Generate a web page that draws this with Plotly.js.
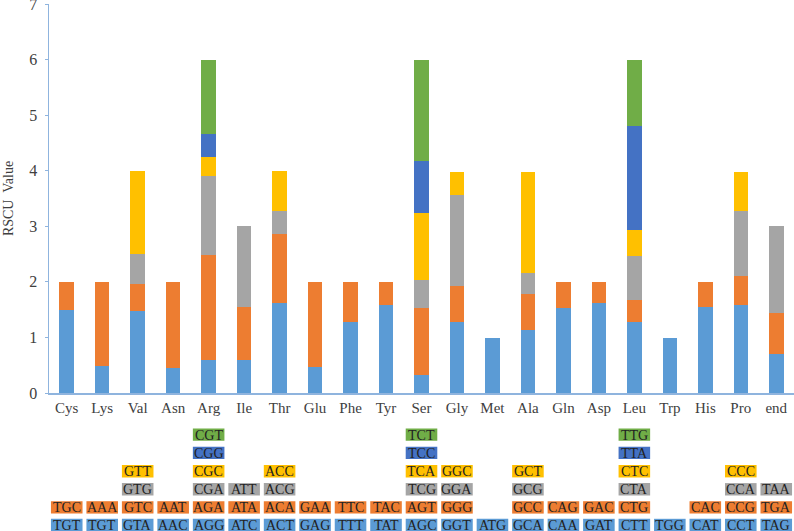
<!DOCTYPE html>
<html>
<head>
<meta charset="utf-8">
<script src="https://cdn.plot.ly/plotly-3.0.1.min.js"></script>
<style>html,body{margin:0;padding:0;background:#fff;}#chart{width:794px;height:531px;}</style>
</head>
<body>
<div id="chart"></div>
<script>
// Amino acids (categories)
var aminoAcids = ["Cys","Lys","Val","Asn","Arg","Ile","Thr","Glu","Phe","Tyr","Ser","Gly","Met","Ala","Gln","Asp","Leu","Trp","His","Pro","end"];

// RSCU values per stack level (bottom -> top)
var rscu1 = [1.50,0.49,1.48,0.45,0.59,0.59,1.62,0.47,1.27,1.59,0.33,1.27,0.99,1.13,1.53,1.62,1.27,0.99,1.55,1.59,0.71];
var rscu2 = [0.50,1.51,0.49,1.55,1.90,0.96,1.24,1.53,0.73,0.41,1.20,0.65,null,0.66,0.47,0.38,0.40,null,0.45,0.51,0.73];
var rscu3 = [null,null,0.54,null,1.42,1.45,0.42,null,null,null,0.51,1.64,null,0.37,null,null,0.79,null,null,1.18,1.56];
var rscu4 = [null,null,1.49,null,0.33,null,0.72,null,null,null,1.20,0.42,null,1.82,null,null,0.47,null,null,0.70,null];
var rscu5 = [null,null,null,null,0.42,null,null,null,null,null,0.93,null,null,null,null,null,1.87,null,null,null,null];
var rscu6 = [null,null,null,null,1.34,null,null,null,null,null,1.83,null,null,null,null,null,1.20,null,null,null,null];

// Codon labels per level (bottom -> top)
var codon1 = ["TGT","TGT","GTA","AAC","AGG","ATC","ACT","GAG","TTT","TAT","AGC","GGT","ATG","GCA","CAA","GAT","CTT","TGG","CAT","CCT","TAG"];
var codon2 = ["TGC","AAA","GTC","AAT","AGA","ATA","ACA","GAA","TTC","TAC","AGT","GGG",null,"GCC","CAG","GAC","CTG",null,"CAC","CCG","TGA"];
var codon3 = [null,null,"GTG",null,"CGA","ATT","ACG",null,null,null,"TCG","GGA",null,"GCG",null,null,"CTA",null,null,"CCA","TAA"];
var codon4 = [null,null,"GTT",null,"CGC",null,"ACC",null,null,null,"TCA","GGC",null,"GCT",null,null,"CTC",null,null,"CCC",null];
var codon5 = [null,null,null,null,"CGG",null,null,null,null,null,"TCC",null,null,null,null,null,"TTA",null,null,null,null];
var codon6 = [null,null,null,null,"CGT",null,null,null,null,null,"TCT",null,null,null,null,null,"TTG",null,null,null,null];

var colors = ["#5B9BD5","#ED7D31","#A5A5A5","#FFC000","#4472C4","#70AD47"];
var levels = [rscu1,rscu2,rscu3,rscu4,rscu5,rscu6];
var codons = [codon1,codon2,codon3,codon4,codon5,codon6];

var FONT = "Liberation Serif, Times New Roman, serif";

var traces = levels.map(function(vals, k){
  return {
    type: "bar",
    x: aminoAcids,
    y: vals,
    marker: {color: colors[k]},
    hoverinfo: "x+y",
    showlegend: false
  };
});

// codon table below the axis
var plotTop = 4, plotBottom = 393, plotH = plotBottom - plotTop;
var rowCenters = [525.0, 507.4, 489.3, 471.2, 452.9, 434.6];
var boxH = 12.4;
var shapes = [], annotations = [];
codons.forEach(function(row, k){
  var yc = (plotBottom - rowCenters[k]) / plotH;
  var hh = (boxH/2) / plotH;
  row.forEach(function(c, i){
    if (!c) return;
    shapes.push({type:"rect", xref:"x", yref:"paper", x0:i-0.445, x1:i+0.445, y0:yc-hh, y1:yc+hh,
      fillcolor: colors[k], line:{width:0}, layer:"above"});
    annotations.push({xref:"x", yref:"paper", x:i, y:yc - 0.5/plotH, text:c, showarrow:false,
      xanchor:"center", yanchor:"middle", font:{family:FONT, size:14, color:"#222222"}});
  });
});

var layout = {
  width: 794, height: 531,
  margin: {l:49, r:0, t:4, b:138, pad:0},
  paper_bgcolor: "#ffffff", plot_bgcolor: "#ffffff",
  barmode: "stack",
  bargap: 0.59,
  font: {family: FONT, size: 14, color: "#404040"},
  xaxis: {
    type: "category",
    range: [-0.5, 20.5],
    showline: true, linecolor: "#8FB4DE", linewidth: 1.5,
    ticks: "", showgrid: false, zeroline: false,
    tickfont: {family: FONT, size: 15, color: "#404040"},
    fixedrange: true
  },
  yaxis: {
    range: [0, 7.0001],
    tickvals: [0,1,2,3,4,5,6,7],
    showline: true, linecolor: "#8FB4DE", linewidth: 1.5,
    ticks: "outside", ticklen: 3, tickcolor: "#8FB4DE", tickwidth: 1,
    showgrid: false, zeroline: false,
    tickfont: {family: FONT, size: 16, color: "#404040"},
    ticklabelstandoff: 4,
    ticklabeloverflow: "allow",
    title: {text: "RSCU  Value", font: {family: FONT, size: 14, color: "#404040"}, standoff: 12},
    fixedrange: true
  },
  shapes: shapes,
  annotations: annotations
};

Plotly.newPlot("chart", traces, layout, {displayModeBar: false, staticPlot: true});
</script>
</body>
</html>
